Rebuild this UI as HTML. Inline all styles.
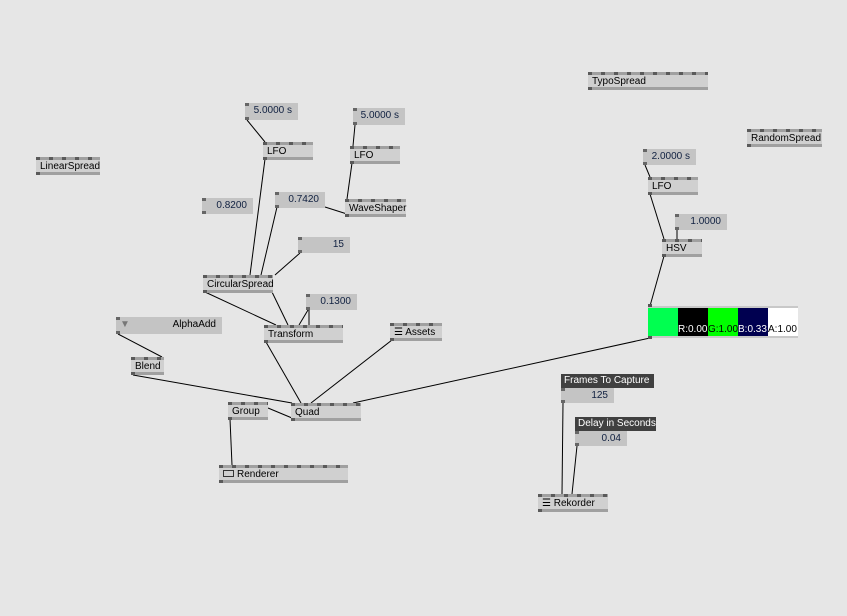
<!DOCTYPE html>
<html><head><meta charset="utf-8"><style>
html,body{margin:0;padding:0;}
body{width:847px;height:616px;background:#e6e6e6;position:relative;overflow:hidden;font-family:"Liberation Sans",sans-serif;font-size:10px;color:#000;}
.n{position:absolute;box-sizing:border-box;padding:3px 0 3px 4px;line-height:13px;white-space:nowrap;
background:repeating-linear-gradient(90deg,#5a5a5a 0 4px,#a0a0a0 4px 13px) left top/100% 3px no-repeat,
linear-gradient(#a0a0a0,#a0a0a0) left bottom/100% 3px no-repeat,#d0d0d0;}
.n::after{content:"";position:absolute;left:0;bottom:0;width:4px;height:3px;background:#5a5a5a;}
.v{position:absolute;box-sizing:border-box;background:#c4c4c4;text-align:right;padding-right:6px;line-height:16px;white-space:nowrap;color:#102040;}
.v::before,.v::after{content:"";position:absolute;left:0;width:4px;height:3px;background:#666;}
.v::before{top:0}.v::after{bottom:0}
.lab{position:absolute;background:#404040;color:#fff;box-sizing:border-box;padding-left:3px;line-height:14px;font-size:10px;}
svg{position:absolute;left:0;top:0;}
</style></head><body>
<svg width="847" height="616" stroke="#000" stroke-width="1" fill="none">
<line x1="247" y1="120" x2="265" y2="142"/>
<line x1="265" y1="159" x2="250" y2="275"/>
<line x1="277" y1="207" x2="261" y2="275"/>
<line x1="325" y1="207" x2="347" y2="214"/>
<line x1="355" y1="125" x2="353" y2="146"/>
<line x1="352" y1="163" x2="347" y2="199"/>
<line x1="300" y1="253" x2="275" y2="275"/>
<line x1="205" y1="292" x2="276" y2="325"/>
<line x1="272" y1="292" x2="288" y2="325"/>
<line x1="308" y1="310" x2="299" y2="325"/>
<line x1="309" y1="310" x2="309" y2="325"/>
<line x1="118" y1="334" x2="162" y2="357"/>
<line x1="133" y1="375" x2="292" y2="403"/>
<line x1="266" y1="342" x2="301" y2="403"/>
<line x1="392" y1="340" x2="311" y2="403"/>
<line x1="268" y1="408" x2="292" y2="418"/>
<line x1="230" y1="419" x2="232" y2="465"/>
<line x1="650" y1="338" x2="353" y2="403"/>
<line x1="664" y1="256" x2="650" y2="306"/>
<line x1="645" y1="165" x2="650" y2="177"/>
<line x1="650" y1="194" x2="664" y2="239"/>
<line x1="677" y1="230" x2="677" y2="239"/>
<line x1="563" y1="403" x2="562" y2="494"/>
<line x1="577" y1="446" x2="572" y2="494"/>
</svg>

<div class="n" style="left:36px;top:157px;width:64px;height:18px">LinearSpread</div>
<div class="v" style="left:245px;top:103px;width:53px;height:17px">5.0000 s</div>
<div class="n" style="left:263px;top:142px;width:50px;height:18px">LFO</div>
<div class="v" style="left:353px;top:108px;width:52px;height:17px">5.0000 s</div>
<div class="n" style="left:350px;top:146px;width:50px;height:18px">LFO</div>
<div class="v" style="left:202px;top:198px;width:51px;height:16px">0.8200</div>
<div class="v" style="left:275px;top:192px;width:50px;height:16px">0.7420</div>
<div class="n" style="left:345px;top:199px;width:61px;height:18px">WaveShaper</div>
<div class="v" style="left:298px;top:237px;width:52px;height:16px">15</div>
<div class="n" style="left:203px;top:275px;width:70px;height:18px">CircularSpread</div>
<div class="v" style="left:306px;top:294px;width:51px;height:16px">0.1300</div>
<div class="n" style="left:264px;top:325px;width:79px;height:18px">Transform</div>
<div class="v" style="left:116px;top:317px;width:106px;height:17px;color:#000"><span style="position:absolute;left:4px;top:0;color:#777">▼</span>AlphaAdd</div>
<div class="n" style="left:390px;top:323px;width:52px;height:18px">☰ Assets</div>
<div class="n" style="left:131px;top:357px;width:33px;height:18px">Blend</div>
<div class="n" style="left:228px;top:402px;width:40px;height:18px">Group</div>
<div class="n" style="left:291px;top:403px;width:70px;height:18px">Quad</div>
<div class="n" style="left:219px;top:465px;width:129px;height:18px"><span style="display:inline-block;width:9px;height:5px;border:1px solid #333;margin-right:3px"></span>Renderer</div>
<div class="n" style="left:588px;top:72px;width:120px;height:18px">TypoSpread</div>
<div class="n" style="left:747px;top:129px;width:75px;height:18px">RandomSpread</div>
<div class="v" style="left:643px;top:149px;width:53px;height:16px">2.0000 s</div>
<div class="n" style="left:648px;top:177px;width:50px;height:18px">LFO</div>
<div class="v" style="left:675px;top:214px;width:52px;height:16px">1.0000</div>
<div class="n" style="left:662px;top:239px;width:40px;height:18px">HSV</div>

<div style="position:absolute;left:648px;top:306px;width:150px;height:32px;border-top:2px solid #c8c8c8;border-bottom:2px solid #c8c8c8;box-sizing:border-box;display:flex;overflow:hidden;font-size:10px">
<div style="width:30px;background:#00ff50"></div>
<div style="width:30px;background:#000;color:#fff;padding-top:16px;box-sizing:border-box;overflow:hidden;white-space:nowrap">R:0.00</div>
<div style="width:30px;background:#00ff00;color:#000;padding-top:16px;box-sizing:border-box;overflow:hidden;white-space:nowrap">G:1.00</div>
<div style="width:30px;background:#000050;color:#fff;padding-top:16px;box-sizing:border-box;overflow:hidden;white-space:nowrap">B:0.33</div>
<div style="width:30px;background:#fff;color:#000;padding-top:16px;box-sizing:border-box;overflow:hidden;white-space:nowrap">A:1.00</div>
</div>
<div style="position:absolute;left:648px;top:304px;width:4px;height:3px;background:#555"></div>
<div style="position:absolute;left:648px;top:336px;width:4px;height:3px;background:#555"></div>

<div class="lab" style="left:561px;top:374px;width:93px;height:14px">Frames To Capture</div>
<div class="v" style="left:561px;top:388px;width:53px;height:15px;line-height:15px">125</div>
<div class="lab" style="left:575px;top:417px;width:81px;height:14px">Delay in Seconds</div>
<div class="v" style="left:575px;top:431px;width:52px;height:15px;line-height:15px">0.04</div>
<div class="n" style="left:538px;top:494px;width:70px;height:18px">☰ Rekorder</div>
</body></html>
